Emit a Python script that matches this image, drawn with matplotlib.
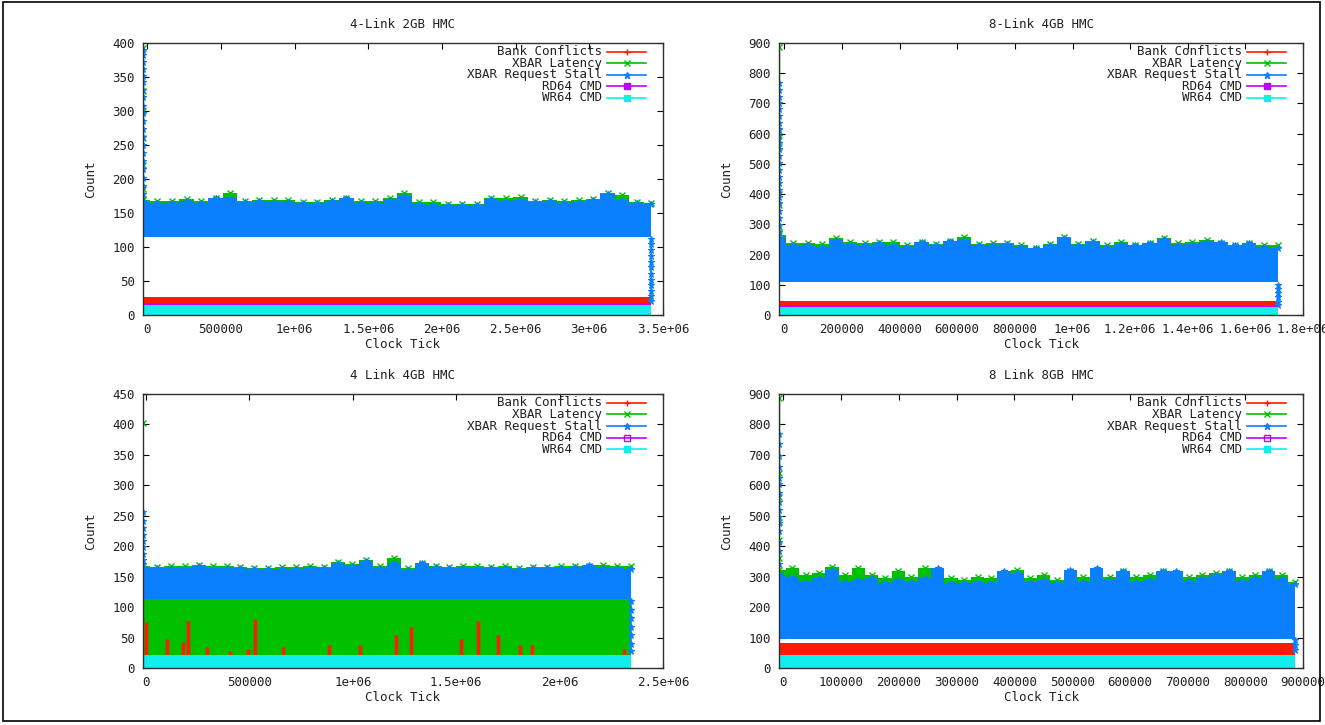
import numpy as np
import matplotlib
matplotlib.use("Agg")
import matplotlib.pyplot as plt
from matplotlib.patches import Rectangle
from matplotlib.ticker import FuncFormatter

RED = "#ff1a00"
GREEN = "#00c000"
BLUE = "#0a80ff"
PURPLE = "#c000ff"
CYAN = "#10eeee"
TXT = "#202020"
FONT = "DejaVu Sans Mono"

labels = ["Bank Conflicts", "XBAR Latency", "XBAR Request Stall", "RD64 CMD", "WR64 CMD"]
titles = ["4-Link 2GB HMC", "8-Link 4GB HMC", "4 Link 4GB HMC", "8 Link 8GB HMC"]

# ---- 4-Link 2GB ----
xlim1 = (-30000, 3.5e6)
xend1 = 3.42e6
ymax1, ystep1, xstep1 = 400, 50, 500000
lat_top1 = [169, 168, 167, 171, 167, 172, 179, 168, 169, 169, 169, 166, 166, 169, 172, 167, 168, 172,
            179, 166, 166, 163, 163, 163, 172, 172, 173, 168, 169, 168, 169, 171, 179, 176, 166, 164]
stall_top1 = [166, 164, 164, 167, 164, 172, 172, 166, 167, 166, 166, 164, 164, 167, 172, 164, 164, 169,
              175, 163, 162, 162, 162, 162, 171, 168, 169, 166, 167, 164, 166, 169, 178, 169, 164, 163]
stall_low1 = 115
lat_low1 = 115
bank1 = (16, 26)
rd1 = 17
wr1 = 15
spike_stall1 = [390, 382, 372, 362, 352, 342, 331, 320, 308, 297, 286, 274, 262, 250, 238, 226,
                214, 202, 190, 178, 168]
spike_lat1 = [392, 330, 300, 260, 220, 185, 170]
tail1 = [112, 104, 95, 87, 78, 70, 61, 52, 44, 36, 28, 20]

# ---- 8-Link 4GB ----
xlim2 = (-18000, 1.8e6)
xend2 = 1.712e6
ymax2, ystep2, xstep2 = 900, 100, 200000
lat_top2 = [265, 237, 237, 234, 254, 243, 237, 243, 243, 232, 241, 234, 245, 259, 234, 237, 237, 232,
            223, 234, 259, 234, 245, 232, 243, 230, 237, 256, 237, 241, 248, 237, 230, 237, 230, 230]
stall_top2 = [259, 230, 230, 226, 248, 234, 230, 237, 232, 226, 243, 232, 245, 248, 230, 230, 234, 226,
              221, 230, 254, 230, 241, 226, 234, 232, 237, 252, 230, 234, 243, 243, 230, 237, 226, 223]
stall_low2 = 108
lat_low2 = 108
bank2 = (27, 45)
rd2 = 29
wr2 = 27
spike_stall2 = [768, 745, 722, 700, 680, 658, 636, 615, 592, 570, 548, 525, 502, 480, 458, 436,
                414, 392, 370, 345, 322, 298, 275, 252]
spike_lat2 = [888, 610, 580, 555, 400, 365, 290, 270]
tail2 = [100, 86, 72, 58, 44, 32]

# ---- 4 Link 4GB ----
xlim3 = (-15000, 2.5e6)
xend3 = 2.343e6
ymax3, ystep3, xstep3 = 450, 50, 500000
lat_top3 = [168, 166, 168, 168, 169, 168, 168, 166, 165, 165, 166, 166, 168, 166, 174, 170, 177, 168,
            181, 165, 172, 168, 166, 168, 168, 166, 168, 165, 166, 166, 168, 168, 168, 169, 168, 168]
stall_top3 = [165, 164, 164, 165, 168, 165, 164, 164, 163, 163, 163, 163, 165, 164, 172, 168, 175, 165,
              172, 161, 172, 166, 165, 165, 165, 164, 165, 163, 164, 164, 164, 166, 169, 165, 165, 163]
stall_low3 = 114
lat_low3 = 21
rd3 = 22
wr3 = 21
bank_x3 = [0, 100000, 181000, 202000, 294000, 408000, 492000, 529000, 663000, 885000, 1036000,
           1209000, 1279000, 1525000, 1606000, 1700000, 1808000, 1865000, 2310000]
bank_v3 = [75, 48, 43, 78, 35, 28, 32, 80, 35, 38, 37, 54, 68, 48, 77, 55, 37, 38, 32]
spike_stall3 = [256, 242, 230, 218, 208, 198, 188, 178, 170]
spike_lat3 = [402]
tail3 = [110, 96, 82, 68, 54, 40, 28]

# ---- 8 Link 8GB ----
xlim4 = (-7400, 9e5)
xend4 = 8.86e5
ymax4, ystep4, xstep4 = 900, 100, 100000
lat_top4 = [322, 328, 306, 311, 333, 306, 328, 306, 295, 317, 300, 328, 322, 295, 289, 300, 295, 311, 322, 295,
            306, 289, 317, 300, 317, 300, 317, 300, 306, 317, 311, 300, 306, 311, 317, 300, 306, 317, 306, 284]
stall_top4 = [306, 300, 284, 295, 322, 284, 289, 295, 278, 289, 284, 295, 328, 278, 278, 284, 278, 319, 311, 284,
              289, 278, 322, 284, 328, 289, 319, 284, 289, 319, 317, 286, 295, 306, 317, 286, 295, 317, 292, 275]
stall_low4 = 95
lat_low4 = 95
bank4 = (42, 83)
rd4 = 44
wr4 = 42
spike_stall4 = [770, 735, 695, 660, 625, 605, 575, 545, 520, 495, 475, 450, 415, 385, 340, 310]
spike_lat4 = [888, 640, 560, 480, 420, 360, 300, 270]
tail4 = [92, 74, 58]

plt.rcParams['font.family'] = [FONT]

fig = plt.figure(figsize=(13.25, 7.25), dpi=100)
boxes = [(0.1079, 0.5655, 0.3925, 0.3752), (0.588, 0.5655, 0.3955, 0.3752),
         (0.1079, 0.0786, 0.3925, 0.378), (0.588, 0.0786, 0.3955, 0.378)]

panels = [
    (xlim1, xend1, ymax1, ystep1, xstep1, lat_top1, stall_top1, lat_low1, stall_low1, bank1, rd1, wr1,
     spike_stall1, spike_lat1, tail1, 'full'),
    (xlim2, xend2, ymax2, ystep2, xstep2, lat_top2, stall_top2, lat_low2, stall_low2, bank2, rd2, wr2,
     spike_stall2, spike_lat2, tail2, 'full'),
    (xlim3, xend3, ymax3, ystep3, xstep3, lat_top3, stall_top3, lat_low3, stall_low3, None, rd3, wr3,
     spike_stall3, spike_lat3, tail3, 'none'),
    (xlim4, xend4, ymax4, ystep4, xstep4, lat_top4, stall_top4, lat_low4, stall_low4, bank4, rd4, wr4,
     spike_stall4, spike_lat4, tail4, 'none'),
]

fmt = FuncFormatter(lambda v, p: "{:g}".format(v))

for i, (box, pn) in enumerate(zip(boxes, panels)):
    (xl, xend, ymax, ystep, xstep, lat, stall, lat_lo, stall_lo, bank, rd, wr,
     sp_stall, sp_lat, tail, rdfill) = pn
    ax = fig.add_axes(box)
    x0 = xl[0]
    xs = np.linspace(x0, xend, len(lat))

    # Bank conflicts
    if bank is not None:
        ax.fill_between([x0, xend], bank[0], bank[1], color=RED, lw=0, zorder=1)
    else:
        ax.vlines(bank_x3, wr3, bank_v3, color=RED, lw=2.5, zorder=3)
    # XBAR latency
    ax.fill_between(xs, lat_lo, lat, step='mid', color=GREEN, lw=0, zorder=2)
    ax.plot(xs, lat, 'x', color=GREEN, ms=5, mew=1, zorder=2)
    ax.plot(np.full(len(sp_lat), x0), sp_lat, 'x-', color=GREEN, ms=5, mew=1, lw=1, zorder=2)
    # XBAR request stall
    ax.fill_between(xs, stall_lo, stall, step='mid', color=BLUE, lw=0, zorder=4)
    ax.plot(xs, stall, '*', color=BLUE, ms=5, mew=0.8, zorder=4)
    ax.plot(np.full(len(sp_stall), x0), sp_stall, '*-', color=BLUE, ms=5, mew=0.8, lw=1.2, zorder=4)
    ax.plot(np.full(len(tail), xend), tail, '*-', color=BLUE, ms=5, mew=0.8, lw=1.2, zorder=4)
    # RD64 / WR64
    ax.fill_between([x0, xend], 0, rd, color=PURPLE, lw=0, zorder=5)
    ax.fill_between([x0, xend], 0, wr, color=CYAN, lw=0, zorder=6)

    ax.set_xlim(xl[0], xl[1])
    ax.set_ylim(0, ymax)
    ax.set_yticks(np.arange(0, ymax + 1, ystep))
    ax.set_xticks(np.arange(0, xl[1] + 1, xstep))
    ax.xaxis.set_major_formatter(fmt)
    ax.tick_params(direction='in', top=True, right=True, length=4, width=0.8,
                   labelsize=9, labelcolor=TXT, pad=6)
    for s in ax.spines.values():
        s.set_linewidth(1.0)
        s.set_color('#303030')
        s.set_zorder(10)
    ax.set_title(titles[i], fontsize=9, color=TXT, pad=11)
    ax.set_xlabel("Clock Tick", fontsize=9, color=TXT, labelpad=1)
    ax.set_ylabel("Count", fontsize=9, color=TXT, labelpad=11)

    # gnuplot-style key
    keys = [(RED, '+', RED), (GREEN, 'x', GREEN), (BLUE, '*', BLUE),
            (PURPLE, 's', PURPLE if rdfill == 'full' else 'none'), (CYAN, 's', CYAN)]
    for k, (lab, (col, mk, mfc)) in enumerate(zip(labels, keys)):
        y = 0.968 - k * 0.0425
        ax.text(0.883, y, lab, transform=ax.transAxes, ha='right', va='center',
                fontsize=9, color=TXT, zorder=12)
        ax.plot([0.893, 0.968], [y, y], transform=ax.transAxes, color=col, lw=1.2, zorder=12)
        ax.plot([0.9305], [y], transform=ax.transAxes, marker=mk, color=col, mfc=mfc,
                ms=5, mew=1, zorder=12)

fig.patches.append(Rectangle((0.002, 0.005), 0.994, 0.992, transform=fig.transFigure,
                             fill=False, lw=1.2, ec='black'))

fig.savefig("out.png", dpi=100)
